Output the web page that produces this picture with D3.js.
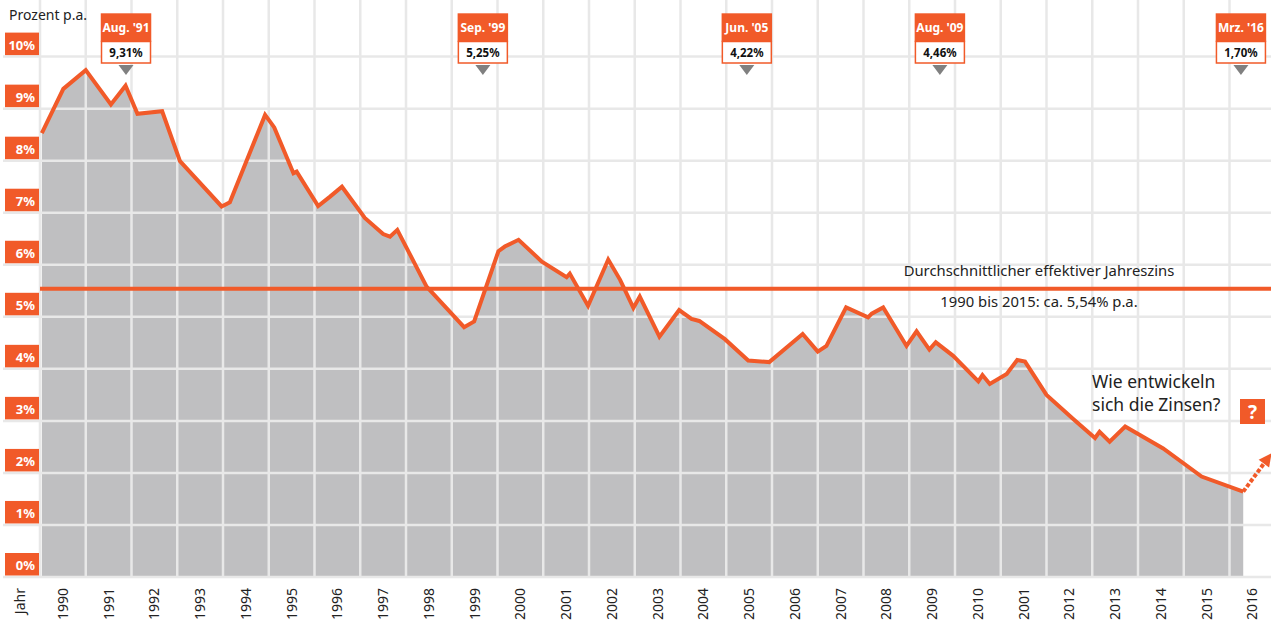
<!DOCTYPE html>
<html>
    <head>
        <meta charset="utf-8">
        <title>Effektiver Jahreszins 1990 - 2016</title>
        <style type="text/css">
          body { margin: 0; background: #fff; }
          svg text { font-family: "Noto Sans", "Open Sans", sans-serif; }
          .grid line { stroke: #e8e8e8; stroke-width: 2.5; }
          .ylab text { font-size: 13px; font-weight: bold; fill: #fff; text-anchor: end; }
          .year text { font-size: 14px; fill: #222; text-anchor: end; }
          .callout .head { font-size: 12px; font-weight: bold; fill: #fff; text-anchor: middle; }
          .callout .val { font-size: 11.5px; font-weight: bold; fill: #111; text-anchor: middle; }
        </style>
        <script src="https://cdn.jsdelivr.net/npm/d3@7"></script>
    </head>
    <body>
    <script>
        // data (decimal year, percent p.a.)
        var dates = [1990.04, 1990.51, 1991.0, 1991.55, 1991.87, 1992.13, 1992.67, 1993.06, 1993.97, 1994.15,
                     1994.92, 1995.12, 1995.54, 1995.61, 1996.08, 1996.34, 1996.6, 1997.1, 1997.5, 1997.65,
                     1997.81, 1998.45, 1999.27, 1999.49, 2000.02, 2000.16, 2000.46, 2000.97, 2001.51, 2001.58,
                     2001.98, 2002.42, 2002.68, 2002.97, 2003.11, 2003.54, 2003.97, 2004.24, 2004.41, 2004.97,
                     2005.48, 2005.94, 2006.67, 2007.0, 2007.19, 2007.62, 2008.1, 2008.18, 2008.43, 2008.94,
                     2009.16, 2009.44, 2009.58, 2009.96, 2010.51, 2010.6, 2010.76, 2011.13, 2011.36, 2011.53,
                     2012.0, 2012.59, 2013.06, 2013.16, 2013.38, 2013.72, 2014.55, 2015.39, 2016.3];
        var rates = [8.53, 9.38, 9.74, 9.08, 9.44, 8.90, 8.95, 7.99, 7.12, 7.20,
                     8.88, 8.64, 7.76, 7.79, 7.13, 7.31, 7.50, 6.90, 6.59, 6.54,
                     6.67, 5.58, 4.80, 4.91, 6.26, 6.35, 6.48, 6.06, 5.76, 5.83,
                     5.21, 6.10, 5.71, 5.17, 5.39, 4.62, 5.13, 4.96, 4.92, 4.57,
                     4.16, 4.13, 4.67, 4.33, 4.44, 5.18, 4.99, 5.06, 5.18, 4.44,
                     4.72, 4.37, 4.51, 4.25, 3.76, 3.88, 3.71, 3.90, 4.17, 4.14,
                     3.50, 3.03, 2.67, 2.79, 2.60, 2.89, 2.47, 1.93, 1.64];

        var average = 5.54;
        var yTicks = [0, 1, 2, 3, 4, 5, 6, 7, 8, 9, 10];
        var years = d3.range(1990, 2017);
        var yearLabels = ["1990", "1991", "1992", "1993", "1994", "1995", "1996", "1997", "1998", "1999",
                          "2000", "2001", "2002", "2003", "2004", "2005", "2006", "2007", "2008", "2009",
                          "2010", "2001", "2012", "2013", "2014", "2015", "2016"];

        var calloutDates = [1991.88, 1999.68, 2005.45, 2009.67, 2016.25];
        var calloutHeads = ["Aug. '91", "Sep. '99", "Jun. '05", "Aug. '09", "Mrz. '16"];
        var calloutValues = ["9,31%", "5,25%", "4,22%", "4,46%", "1,70%"];

        var width = 1271, height = 622;
        var orange = "#f15a29";

        var x = d3.scaleLinear().domain([1990, 2017]).range([40, 1275.25]);
        var y = d3.scaleLinear().domain([0, 10]).range([577, 56.6]);

        var svg = d3.select("body").append("svg")
            .attr("width", width)
            .attr("height", height);

        var data = dates.map(function(d, i) { return {date: d, rate: rates[i]}; });

        // grey area below the curve
        var area = d3.area()
            .x(function(d) { return x(d.date); })
            .y0(y(0))
            .y1(function(d) { return y(d.rate); });

        svg.append("path")
            .datum(data)
            .attr("d", area)
            .style("fill", "#bfbfc1");

        // grid over the area
        var grid = svg.append("g").attr("class", "grid");
        grid.selectAll(".v")
            .data(years)
          .enter().append("line")
            .attr("x1", function(d) { return x(d); })
            .attr("x2", function(d) { return x(d); })
            .attr("y1", 0)
            .attr("y2", y(0));
        grid.selectAll(".h")
            .data(yTicks)
          .enter().append("line")
            .attr("x1", 3)
            .attr("x2", width)
            .attr("y1", function(d) { return y(d); })
            .attr("y2", function(d) { return y(d); });

        // average line
        svg.append("line")
            .attr("x1", x(1990))
            .attr("x2", width)
            .attr("y1", y(average))
            .attr("y2", y(average))
            .style("stroke", orange)
            .style("stroke-width", 4);

        svg.append("text")
            .attr("x", 1039).attr("y", y(average) - 13)
            .attr("text-anchor", "middle")
            .style("font-size", "14.8px").style("fill", "#222")
            .text("Durchschnittlicher effektiver Jahreszins");
        svg.append("text")
            .attr("x", 1039).attr("y", y(average) + 18)
            .attr("text-anchor", "middle")
            .style("font-size", "14.8px").style("fill", "#222")
            .text("1990 bis 2015: ca. 5,54% p.a.");

        // interest rate line
        var line = d3.line()
            .x(function(d) { return x(d.date); })
            .y(function(d) { return y(d.rate); });

        svg.append("path")
            .datum(data)
            .attr("d", line)
            .style("fill", "none")
            .style("stroke", orange)
            .style("stroke-width", 4)
            .style("stroke-linejoin", "miter");

        // dashed arrow into the future
        var last = data[data.length - 1];
        var tip = {date: 2016.92, rate: 2.38};
        var x0 = x(last.date), y0 = y(last.rate), x1 = x(tip.date), y1 = y(tip.rate);
        var ang = Math.atan2(y1 - y0, x1 - x0);
        var headLen = 13;
        svg.append("line")
            .attr("x1", x0).attr("y1", y0)
            .attr("x2", x1 - headLen * Math.cos(ang)).attr("y2", y1 - headLen * Math.sin(ang))
            .style("stroke", orange)
            .style("stroke-width", 4)
            .style("stroke-dasharray", "4,2");
        var hx = x1 - headLen * Math.cos(ang), hy = y1 - headLen * Math.sin(ang);
        var px = -Math.sin(ang) * 6.5, py = Math.cos(ang) * 6.5;
        svg.append("path")
            .attr("d", "M" + x1 + "," + y1 + "L" + (hx + px) + "," + (hy + py) + "L" + (hx - px) + "," + (hy - py) + "Z")
            .style("fill", orange);

        // question
        svg.append("text")
            .attr("x", 1092).attr("y", 388)
            .style("font-size", "17.5px").style("fill", "#222")
            .text("Wie entwickeln");
        svg.append("text")
            .attr("x", 1092).attr("y", 411)
            .style("font-size", "17.5px").style("fill", "#222")
            .text("sich die Zinsen?");
        svg.append("rect")
            .attr("x", 1240).attr("y", 399).attr("width", 25).attr("height", 25)
            .style("fill", orange);
        svg.append("text")
            .attr("x", 1252.5).attr("y", 418.5)
            .attr("text-anchor", "middle")
            .style("font-size", "19px").style("font-weight", "bold").style("fill", "#fff")
            .text("?");

        // y labels
        var ylab = svg.append("g").attr("class", "ylab");
        var yl = ylab.selectAll("g")
            .data(yTicks)
          .enter().append("g")
            .attr("transform", function(d) { return "translate(0," + y(d) + ")"; });
        yl.append("rect")
            .attr("x", 5).attr("y", -24).attr("width", 34).attr("height", 22.5)
            .style("fill", orange);
        yl.append("text")
            .attr("x", 35).attr("y", -7)
            .text(function(d) { return d + "%"; });

        svg.append("text")
            .attr("x", 9).attr("y", 20)
            .style("font-size", "14px").style("fill", "#222")
            .text("Prozent p.a.");

        // year labels
        var yr = svg.append("g").attr("class", "year");
        yr.selectAll("text")
            .data(years)
          .enter().append("text")
            .attr("transform", function(d) { return "translate(" + (x(d + 0.5) + 5) + ",588) rotate(-90)"; })
            .text(function(d, i) { return yearLabels[i]; });
        yr.append("text")
            .attr("transform", "translate(25,588) rotate(-90)")
            .text("Jahr");

        // callouts
        var co = svg.selectAll(".callout")
            .data(calloutDates)
          .enter().append("g")
            .attr("class", "callout")
            .attr("transform", function(d) { return "translate(" + x(d) + ",0)"; });
        co.append("rect")
            .attr("x", -24.5).attr("y", 41.5).attr("width", 49).attr("height", 21.5)
            .style("fill", "#fff").style("stroke", orange).style("stroke-width", 1.5);
        co.append("rect")
            .attr("x", -25.25).attr("y", 13.3).attr("width", 50.5).attr("height", 28.5)
            .style("fill", orange);
        co.append("path")
            .attr("d", "M-7.5,65L7.5,65L0,75Z")
            .style("fill", "#808080");
        co.append("text")
            .attr("class", "head")
            .attr("y", 31.5)
            .text(function(d, i) { return calloutHeads[i]; });
        co.append("text")
            .attr("class", "val")
            .attr("y", 56.5)
            .text(function(d, i) { return calloutValues[i]; });
    </script>
    </body>
</html>
